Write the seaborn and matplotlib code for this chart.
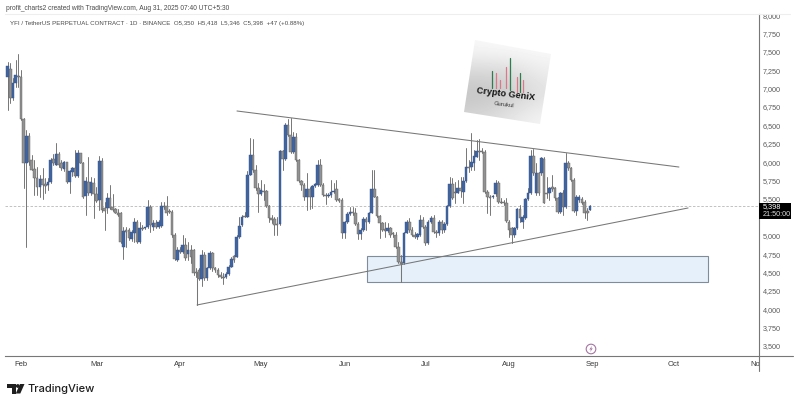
import numpy as np
import pandas as pd
import seaborn as sns
import matplotlib.pyplot as plt
from matplotlib.patches import Rectangle, Polygon, Circle

# daily candles, 27 Jan - 31 Aug 2025
opens = [
    7163, 7263, 6869, 7073, 7172, 7163, 6583, 5985, 6356, 6030,
    5903, 5781, 5658, 5767, 5699, 5690, 5735, 6039, 5962, 6112,
    5985, 5903, 6005, 5735, 5871, 5917, 5812, 6121, 5994, 5540,
    5735, 5577, 5722, 5568, 5486, 6021, 5373, 5373, 5509, 5395,
    5359, 5305, 5305, 4842, 5078, 5078, 4951, 5042, 5191, 4919,
    5100, 5100, 5123, 5395, 5114, 5178, 5123, 5137, 5404, 5404,
    5341, 5327, 5010, 4670, 4806, 4784, 4874, 4752,
    4806, 4806, 4498, 4534, 4412, 4738, 4421, 4557, 4761, 4557,
    4534, 4466, 4443, 4434, 4480, 4580, 4724, 4715, 4978, 5142,
    5268, 5259, 5826, 6098, 5894, 5645, 5563, 5613, 5613, 5404,
    5237, 5223, 5160, 5160, 6157, 6039, 6506, 6370, 6143, 6347,
    6030, 5744, 5690, 5522, 5631, 5522, 5676, 5690, 5962, 5690,
    5554, 5540, 5554, 5599, 5631, 5495, 5486, 5042, 5191, 5296,
    5327, 5305, 5160, 5024, 5078, 5223, 5191, 5314, 5631, 5531,
    5268, 5178, 5087, 5069, 5101,
    5033, 5010, 4851, 4647, 4634, 5042, 5191, 5078, 5010, 4987,
    5010, 5214, 5123, 4897, 5191, 5237, 5055, 5042, 5191, 5078,
    5160, 5404, 5704, 5599, 5586, 5645, 5599, 5749, 5939, 5939,
    5994, 6075, 6157, 6157, 6143, 5599, 5522, 5522, 5568, 5722,
    5463, 5463, 5450, 5191, 5101, 5010, 5101, 5359, 5191, 5237,
    5495, 5577, 6084, 5577, 5849, 5849, 6039, 5586, 5577, 5667,
    5645, 5509, 5327, 5586, 5386, 5994, 5917, 5758, 5341, 5486,
    5495, 5463, 5341, 5350,
]
closes = [
    7308, 6869, 7073, 7186, 7154, 6583, 5985, 6356, 6007, 5894,
    5781, 5658, 5767, 5690, 5681, 5735, 6030, 5985, 6112, 5962,
    5917, 6007, 5735, 5885, 5917, 5812, 6121, 5994, 5531, 5749,
    5577, 5735, 5568, 5477, 6021, 5350, 5341, 5509, 5373, 5350,
    5305, 5280, 4919, 5069, 5055, 4965, 5055, 5191, 4919, 5100,
    5092, 5114, 5395, 5146, 5169, 5123, 5191, 5404, 5395, 5305,
    5327, 5010, 4679, 4806, 4784, 4874, 4693, 4806,
    4715, 4489, 4489, 4412, 4738, 4421, 4557, 4761, 4557, 4534,
    4466, 4443, 4421, 4480, 4580, 4684, 4670, 4987, 5132, 5259,
    5259, 5826, 6098, 5894, 5645, 5563, 5622, 5599, 5404, 5237,
    5214, 5146, 5142, 6157, 6039, 6506, 6370, 6143, 6347, 6030,
    5744, 5690, 5522, 5631, 5522, 5676, 5699, 5962, 5690, 5554,
    5540, 5554, 5599, 5613, 5486, 5477, 5042, 5191, 5296, 5327,
    5305, 5160, 5024, 5078, 5223, 5191, 5314, 5631, 5531, 5268,
    5178, 5078, 5069, 5101, 5010,
    5024, 4851, 4647, 4616, 5042, 5191, 5078, 5010, 4987, 5024,
    5214, 5123, 4897, 5191, 5237, 5055, 5033, 5191, 5078, 5155,
    5404, 5704, 5509, 5586, 5645, 5613, 5749, 5939, 5917, 6007,
    6084, 6157, 6143, 6134, 5599, 5522, 5509, 5540, 5722, 5463,
    5450, 5441, 5205, 5078, 5010, 5101, 5359, 5237, 5250, 5495,
    5577, 6084, 5849, 5849, 5577, 6053, 5450, 5568, 5645, 5631,
    5509, 5327, 5586, 5386, 5985, 5917, 5758, 5341, 5522, 5522,
    5450, 5305, 5314, 5398,
]
highs = [
    7367, 7345, 7141, 7390, 7470, 7254, 6597, 6438, 6392, 6098,
    6030, 5939, 5826, 5917, 5781, 5781, 6053, 6112, 6257, 6143,
    6030, 6016, 6007, 5894, 5939, 6166, 6166, 6130, 6007, 5803,
    6066, 5803, 5781, 5667, 6084, 6053, 5463, 5577, 5690, 5568,
    5373, 5359, 5327, 5123, 5123, 5100, 5078, 5237, 5214, 5191,
    5146, 5123, 5486, 5418, 5214, 5214, 5214, 5463, 5463, 5540,
    5359, 5350, 5033, 4852, 4852, 5010, 4965, 4919,
    4874, 4815, 4557, 4557, 4806, 4783, 4580, 4797, 4783, 4580,
    4557, 4511, 4489, 4511, 4602, 4715, 4738, 5010, 5259, 5282,
    5327, 5885, 6325, 6311, 5962, 5713, 5758, 5704, 5622, 5418,
    5282, 5259, 5259, 6166, 6166, 6529, 6583, 6597, 6415, 6393,
    6039, 5758, 5713, 5849, 5667, 5690, 5713, 6030, 6039, 5713,
    5586, 5577, 5758, 5713, 5758, 5509, 5509, 5205, 5327, 5386,
    5395, 5373, 5191, 5101, 5250, 5259, 5327, 5894, 5894, 5540,
    5282, 5191, 5191, 5169, 5123,
    5055, 5055, 4919, 4738, 5055, 5214, 5237, 5123, 5055, 5033,
    5282, 5259, 5146, 5214, 5268, 5282, 5078, 5214, 5214, 5191,
    5418, 5803, 5781, 5735, 5758, 5803, 5803, 6189, 6030, 6393,
    6166, 6302, 6311, 6189, 6166, 5622, 5554, 5554, 5758, 5749,
    5509, 5486, 5509, 5214, 5123, 5123, 5373, 5418, 5282, 5509,
    5645, 6166, 6175, 5985, 5871, 6075, 6066, 5803, 5667, 5826,
    5667, 5531, 5599, 5622, 6121, 6021, 5939, 5781, 5554, 5554,
    5522, 5486, 5373, 5418,
]
lows = [
    6710, 6801, 6846, 7027, 7027, 6574, 5645, 4852, 5962, 5894,
    5554, 5554, 5531, 5495, 5577, 5622, 5722, 5962, 5962, 5930,
    5894, 5885, 5722, 5577, 5812, 5803, 5803, 5985, 5509, 5282,
    5554, 5554, 5237, 5463, 5350, 5327, 5078, 5305, 5359, 5341,
    5305, 5270, 4897, 4679, 4852, 4942, 4933, 4919, 4906, 4906,
    5078, 5087, 5100, 5055, 5078, 5100, 5100, 5123, 5359, 5282,
    5305, 4987, 4670, 4660, 4761, 4761, 4670, 4670,
    4625, 4466, 4443, 4398, 4316, 4398, 4398, 4543, 4525, 4511,
    4443, 4421, 4344, 4421, 4466, 4570, 4647, 4706, 4965, 5132,
    5250, 5250, 5820, 5871, 5622, 5327, 5554, 5486, 5386, 5191,
    5178, 5010, 5010, 5146, 5894, 6030, 6356, 6121, 6130, 6021,
    5735, 5622, 5486, 5350, 5359, 5373, 5658, 5676, 5676, 5540,
    5432, 5531, 5531, 5577, 5477, 5463, 4965, 4965, 5178, 5282,
    5282, 5146, 4951, 4951, 5069, 5078, 5178, 5305, 5522, 5259,
    4965, 5069, 4978, 5055, 4987,
    4987, 4829, 4634, 4602, 4616, 5033, 5055, 4997, 4965, 4951,
    4997, 5101, 4874, 4888, 5169, 5033, 4987, 5010, 5033, 5055,
    5146, 5395, 5495, 5450, 5577, 5522, 5450, 5735, 5871, 5894,
    5894, 6066, 6030, 6121, 5577, 5305, 5282, 5509, 5540, 5441,
    5441, 5418, 5191, 4987, 4897, 4987, 5087, 5191, 5101, 5223,
    5486, 5568, 5826, 5554, 5554, 5826, 5441, 5509, 5486, 5613,
    5486, 5305, 5305, 5282, 5373, 5894, 5749, 5327, 5282, 5463,
    5432, 5237, 5214, 5346,
]
first_day = "2025-01-27"
last_day = "2025-08-31"

months = ["Feb", "Mar", "Apr", "May", "Jun", "Jul", "Aug", "Sep", "Oct", "Nov"]
month_starts = ["2025-02-01", "2025-03-01", "2025-04-01", "2025-05-01", "2025-06-01",
                "2025-07-01", "2025-08-01", "2025-09-01", "2025-10-01", "2025-11-01"]
# 5,250 sits behind the price tag in the reference
price_ticks = [3500, 3750, 4000, 4250, 4500, 4750, 5000, 5500, 5750,
               6000, 6250, 6500, 6750, 7000, 7250, 7500, 7750, 8000]
last_close = 5398

# drawings on the chart: (day, price) pairs
upper_line = ([80.1, 244.0], [6696, 5934])
lower_line = ([65.3, 247.4], [4058, 5377])
anchor_line = ([65.3, 65.3], [4058, 4500])
box_days = [128.3, 254.8]
box_prices = [4366, 4724]
pivot_line = ([141.0, 141.0], [4366, 4640])

BLUE = "#41649f"
GRAY = "#929292"
WICK = "#767676"

sns.set_theme(style="white")
plt.rcParams["font.family"] = ["Liberation Sans", "DejaVu Sans"]

origin = pd.Timestamp("2025-02-01")
dates = pd.date_range(first_day, last_day)
df = pd.DataFrame({"date": dates, "open": opens, "high": highs, "low": lows, "close": closes})
df["day"] = (df["date"] - origin).dt.days
df["bottom"] = df[["open", "close"]].min(axis=1)
df["body"] = (df["close"] - df["open"]).abs().clip(lower=14)
df["up"] = df["close"] >= df["open"]

fig = plt.figure(figsize=(8, 4.05), dpi=100)
ax = fig.add_axes([5 / 800, 49 / 405, 754 / 800, 342 / 405])

# wicks
wicks = df.melt(id_vars=["day", "up"], value_vars=["high", "low"], value_name="price")
sns.lineplot(data=wicks, x="day", y="price", units="day", estimator=None, color=WICK,
             linewidth=0.7, sort=False, legend=False, ax=ax)

# bodies
for up, sub in df.groupby("up"):
    col = BLUE if up else GRAY
    edge = "#34548c" if up else "#5d5d5d"
    sns.barplot(data=sub, x="day", y="body", bottom=sub["bottom"].to_numpy(), native_scale=True,
                color=col, saturation=1, width=0.98, edgecolor=edge, linewidth=0.3,
                errorbar=None, zorder=3, ax=ax)

# last price line
ax.axhline(last_close, color="#b8b8b8", lw=0.6, ls=(0, (3, 2)), zorder=1)

# trend lines and zone
line_kw = dict(color="#777777", lw=0.75, zorder=4)
ax.plot(*upper_line, **line_kw)
ax.plot(*lower_line, **line_kw)
ax.plot(*anchor_line, **line_kw)
ax.plot(*pivot_line, **line_kw)
ax.add_patch(Rectangle((box_days[0], box_prices[0]), box_days[1] - box_days[0],
                       box_prices[1] - box_prices[0], facecolor="#e6f0fb",
                       edgecolor="#7f8c99", lw=0.8, zorder=0.5))

ax.set_xlim(-5.93, 273.7)
ax.set_ylim(3364, 8015)
ax.set_xlabel("")
ax.set_ylabel("")
ax.set_xticks([(pd.Timestamp(m) - origin).days for m in month_starts])
ax.set_xticklabels(months, fontsize=5.5, color="#3a3a3a")
ax.yaxis.tick_right()
ax.set_yticks(price_ticks)
ax.set_yticklabels([f"{p:,}" for p in price_ticks], fontsize=5.2, color="#5a5a5a")
ax.tick_params(axis="y", length=0, pad=2.8)
ax.tick_params(axis="x", length=0, pad=3.6)
ax.grid(False)
for side, spine in ax.spines.items():
    spine.set_linewidth(0.8)
    spine.set_color("#777777")
ax.spines["left"].set_visible(False)
ax.spines["top"].set_color("#eeeeee")

# overlay in pixel coordinates for chart furniture
ov = fig.add_axes([0, 0, 1, 1], zorder=5)
ov.set_xlim(0, 800)
ov.set_ylim(405, 0)
ov.axis("off")

# cover the cut off 8,000 label and the tail of Nov
ov.add_patch(Rectangle((755, 0), 45, 13, facecolor="white", edgecolor="none"))
ov.add_patch(Rectangle((759.6, 358), 30, 13, facecolor="white", edgecolor="none"))
ov.plot([759, 793], [356, 356], color="#777777", lw=0.8)
ov.plot([759, 790], [14, 14], color="#eeeeee", lw=0.8)
ov.plot([759, 759], [356, 371], color="#777777", lw=0.8)

# current price tag
ov.add_patch(Rectangle((759, 202.5), 32, 16.5, facecolor="black", edgecolor="none"))
ov.text(763, 206.8, "5,398", color="white", fontsize=5.3, va="center", ha="left")
ov.text(763, 214.8, "21:50:00", color="#dddddd", fontsize=5.2, va="center", ha="left")

# header
ov.text(6, 8.5, "profit_charts2 created with TradingView.com, Aug 31, 2025 07:40 UTC+5:30",
        fontsize=4.75, color="#4a4a4a", va="center", ha="left")
ov.text(10, 23.5, "YFI / TetherUS PERPETUAL CONTRACT · 1D · BINANCE  O5,350  H5,418  L5,346  C5,398  +47 (+0.88%)",
        fontsize=4.45, color="#4a4a4a", va="center", ha="left")

# logo card
grad = np.array([[0.97, 0.98, 0.98], [0.84, 0.85, 0.93], [0.76, 0.78, 0.88], [0.84, 0.90, 0.96]])
card = ov.imshow(grad, cmap="gray", vmin=0, vmax=1, extent=(460, 555, 128, 38), aspect="auto",
                 interpolation="bicubic", zorder=2)
clip = Polygon([(475, 40), (551, 54), (540, 124), (464, 112)], closed=True, transform=ov.transData)
card.set_clip_path(clip)
ov.set_xlim(0, 800)
ov.set_ylim(405, 0)
spikes = [(491.7, 70.7, 88.3, "#2f7d4f"), (495.7, 73.3, 88.3, "#d9798a"), (500, 80, 88.3, "#d9798a"),
          (505.7, 66.7, 88.3, "#d9798a"), (510, 58.3, 90, "#2f7d4f"), (516.7, 76.7, 91.7, "#d9798a"),
          (520, 73.3, 91.7, "#2f7d4f"), (522.7, 80, 91.7, "#d9798a")]
for sx, y0, y1, col in spikes:
    ov.plot([sx, sx], [y0, y1], color=col, lw=0.9, zorder=3)
ov.text(506, 94.5, "Crypto GeniX", fontsize=6.6, fontweight="bold", color="#151515", rotation=-7,
        ha="center", va="center", zorder=4)
ov.text(504.5, 104.5, "Gurukul", fontsize=4.2, color="#333333", rotation=-7, ha="center",
        va="center", zorder=4)

# lightning marker
ov.add_patch(Circle((591, 349), 4.8, facecolor="white", edgecolor="#a3759f", lw=0.8))
ov.add_patch(Polygon([(592, 345.8), (589.3, 349.5), (591, 349.5), (590, 352.2), (592.8, 348.4), (591.2, 348.4)],
                     closed=True, facecolor="#a3759f", edgecolor="none"))

# TradingView mark
ov.add_patch(Polygon([(7, 384), (16, 384), (16, 393.5), (11.5, 393.5), (11.5, 388.2), (7, 388.2)],
                     closed=True, facecolor="#1f1f1f", edgecolor="none"))
ov.add_patch(Circle((17.8, 386), 1.9, facecolor="#1f1f1f", edgecolor="none"))
ov.add_patch(Polygon([(20, 384), (24.5, 384), (20.3, 393.5), (15.8, 393.5)],
                     closed=True, facecolor="#1f1f1f", edgecolor="none"))
ov.text(27, 388.5, "TradingView", fontsize=8.0, color="#1f1f1f", family=["Inter", "DejaVu Sans"],
        fontweight="medium", va="center", ha="left")

fig.savefig("out.png", dpi=100)
